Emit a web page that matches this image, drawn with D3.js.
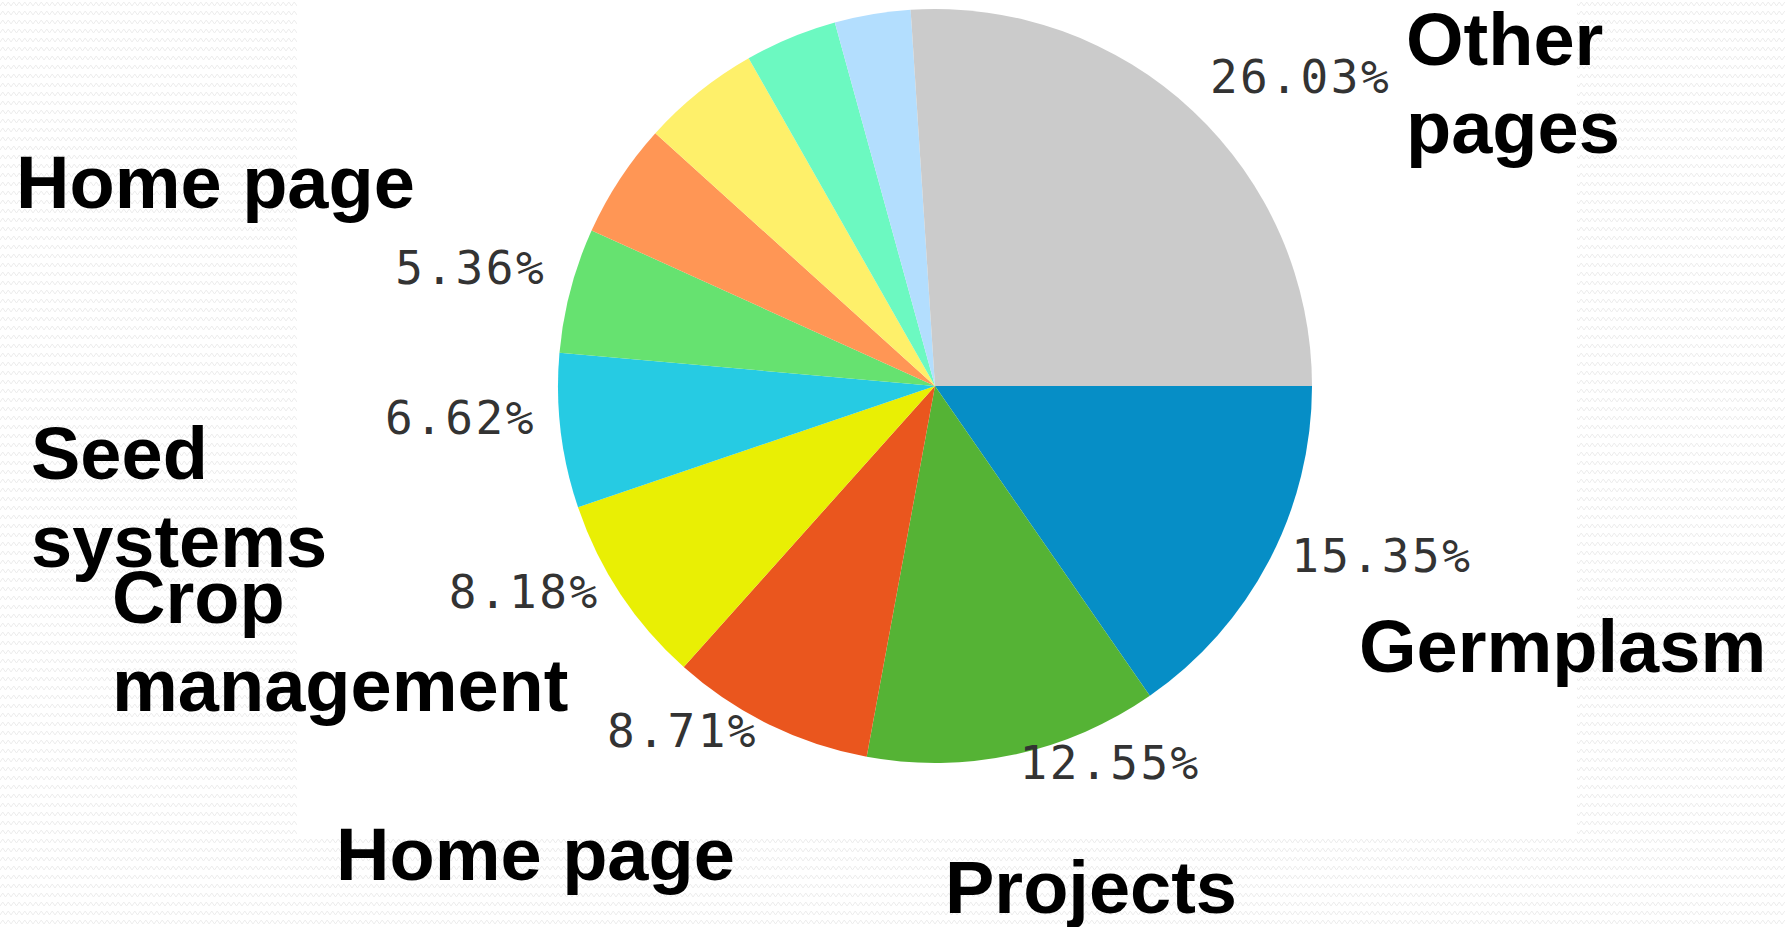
<!DOCTYPE html>
<html lang="en">
<head>
  <meta charset="UTF-8">
  <title>Page views pie</title>
  <script src="https://d3js.org/d3.v7.min.js"></script>
  <style>
    body { margin: 0; background: #fff; }
  </style>
</head>
<body>
  <script>
    // 1. Data (clockwise from 3 o'clock)
    const categories = ["Germplasm", "Projects", "Home page", "Crop management", "Seed systems",
                        "Home page", "", "", "", "", "Other pages"];
    const shares = [15.35, 12.55, 8.71, 8.18, 6.62, 5.36, 4.93, 5.07, 3.95, 3.25, 26.03];
    const colors = ["#068ec6", "#55b335", "#ea561e", "#e9ef04", "#26cbe3",
                    "#66e270", "#ff9655", "#fef06a", "#6cf9c1", "#b3defe", "#cbcbcb"];

    // hand placed category captions (slide overlay), one entry per labelled slice
    const captionLines = [
      ["Germplasm"], ["Projects"], ["Home page"], ["Crop", "management"], ["Seed", "systems"],
      ["Home page"], [], [], [], [], ["Other", "pages"]
    ];
    const captionPos = [
      [1359, 672], [945, 913], [336, 880], [112, 623], [31, 479],
      [16, 208], null, null, null, null, [1406, 65]
    ];

    // 2. SVG
    const width = 1785, height = 927;
    const cx = 935, cy = 386, radius = 377;

    const svg = d3.select("body").append("svg")
      .attr("width", width)
      .attr("height", height);

    // wavy background pattern around the white slide area
    const defs = svg.append("defs");
    const pat = defs.append("pattern")
      .attr("id", "wave")
      .attr("width", 11)
      .attr("height", 9)
      .attr("patternUnits", "userSpaceOnUse");
    pat.append("path")
      .attr("d", "M0,6 L2.75,2 L5.5,6 L8.25,2 L11,6")
      .attr("fill", "none")
      .attr("stroke", "#ececec")
      .attr("stroke-width", 1);

    svg.append("rect")
      .attr("width", width).attr("height", height)
      .attr("fill", "url(#wave)");
    svg.append("rect")
      .attr("x", 297).attr("y", 0)
      .attr("width", 1577 - 297).attr("height", 838)
      .attr("fill", "#fff");

    // 3. Pie
    const pie = d3.pie()
      .sort(null)
      .value(d => d)
      .startAngle(Math.PI / 2)
      .endAngle(Math.PI / 2 + 2 * Math.PI);

    const arcs = pie(shares);

    const arc = d3.arc().innerRadius(0).outerRadius(radius);
    const labelArc = d3.arc().innerRadius(402).outerRadius(402);

    const g = svg.append("g").attr("transform", `translate(${cx},${cy})`);

    g.selectAll("path.slice")
      .data(arcs)
      .join("path")
      .attr("class", "slice")
      .attr("d", arc)
      .attr("fill", (d, i) => colors[i]);

    // 4. Percentage labels
    const fmt = d3.format(".2f");
    g.selectAll("text.pct")
      .data(arcs.filter((d, i) => categories[i] !== ""))
      .join("text")
      .attr("class", "pct")
      .attr("transform", d => `translate(${labelArc.centroid(d)})`)
      .attr("text-anchor", d => {
        const mid = (d.startAngle + d.endAngle) / 2;
        return Math.sin(mid) >= 0 ? "start" : "end";
      })
      .style("font-family", "'DejaVu Sans Mono', monospace")
      .style("font-size", "46px")
      .style("letter-spacing", "2.5px")
      .style("fill", "#333")
      .text(d => fmt(d.data) + "%");

    // 5. Category captions
    categories.forEach((name, i) => {
      if (!captionPos[i]) return;
      const t = svg.append("text")
        .attr("x", captionPos[i][0])
        .attr("y", captionPos[i][1])
        .style("font-family", "'Liberation Sans', Arial, sans-serif")
        .style("font-weight", "bold")
        .style("font-size", "74px")
        .style("fill", "#000");
      captionLines[i].forEach((line, j) => {
        t.append("tspan")
          .attr("x", captionPos[i][0])
          .attr("dy", j === 0 ? 0 : 88)
          .text(line);
      });
    });
  </script>
</body>
</html>
